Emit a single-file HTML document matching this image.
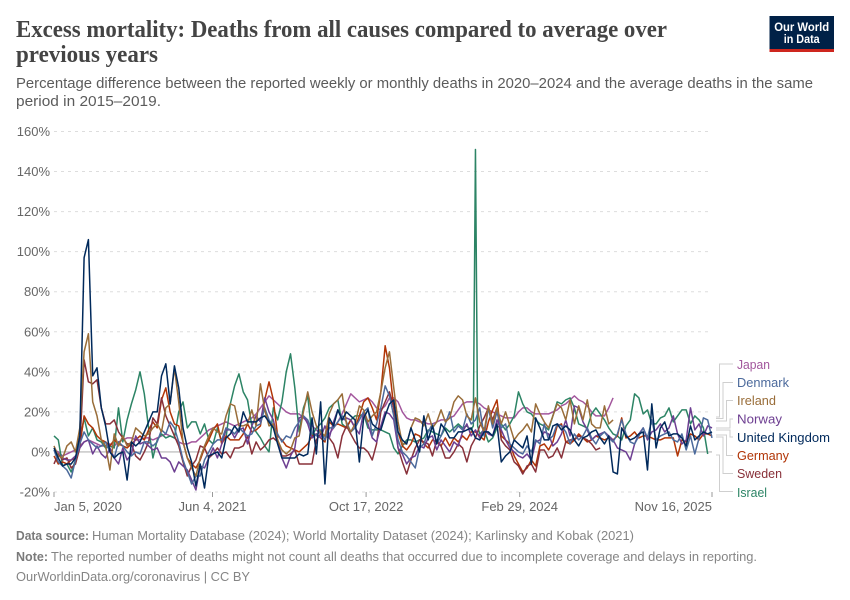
<!DOCTYPE html>
<html lang="en">
<head>
<meta charset="utf-8">
<title>Excess mortality chart</title>
<style>
  html, body { margin: 0; padding: 0; background: #fff; }
  svg { display: block; font-family: "Liberation Sans", sans-serif; }
</style>
</head>
<body>
<svg id="chart" xmlns="http://www.w3.org/2000/svg" width="850" height="600" viewBox="0 0 850 600">
  <rect x="0" y="0" width="850" height="600" fill="#ffffff"/>

  <g>
    <text x="16" y="37" font-family="'Liberation Serif', serif" font-weight="700" font-size="24" fill="#444444" textLength="651" lengthAdjust="spacingAndGlyphs">Excess mortality: Deaths from all causes compared to average over</text>
    <text x="16" y="62" font-family="'Liberation Serif', serif" font-weight="700" font-size="24" fill="#444444" textLength="142" lengthAdjust="spacingAndGlyphs">previous years</text>
    <text x="16" y="88" font-size="14.5" fill="#5b5b5b" textLength="797" lengthAdjust="spacingAndGlyphs">Percentage difference between the reported weekly or monthly deaths in 2020–2024 and the average deaths in the same</text>
    <text x="16" y="106" font-size="14.5" fill="#5b5b5b" textLength="145" lengthAdjust="spacingAndGlyphs">period in 2015–2019.</text>
  </g>

  <g>
    <rect x="769.5" y="16" width="64.5" height="36" fill="#002147"/>
    <rect x="769.5" y="49" width="64.5" height="3" fill="#ce261e"/>
    <text x="801.7" y="31" text-anchor="middle" font-size="12" font-weight="700" fill="#ffffff" textLength="55" lengthAdjust="spacingAndGlyphs">Our World</text>
    <text x="801.7" y="43" text-anchor="middle" font-size="12" font-weight="700" fill="#ffffff" textLength="36" lengthAdjust="spacingAndGlyphs">in Data</text>
  </g>

  <g id="grid"></g>
  <g id="y-axis"></g>
  <g id="x-axis"></g>
  <g id="lines"></g>

  <g fill="none" stroke="#cfcfcf" stroke-width="1">
    <path d="M716 417H719.5V364H733"/>
    <path d="M716 418.5H723V382.5H733"/>
    <path d="M716 421H726.5V400.5H733"/>
    <path d="M716 428H730V419H733"/>
    <path d="M716 430H730V437H733"/>
    <path d="M716 435H726.5V455.5H733"/>
    <path d="M716 437H723V473.5H733"/>
    <path d="M716 455H719.5V491.5H733"/>
  </g>

  <g font-size="13">
    <text x="737" y="369" fill="#a2559c" textLength="33" lengthAdjust="spacingAndGlyphs">Japan</text>
    <text x="737" y="387" fill="#4c6a9c" textLength="52" lengthAdjust="spacingAndGlyphs">Denmark</text>
    <text x="737" y="405" fill="#996d39" textLength="39" lengthAdjust="spacingAndGlyphs">Ireland</text>
    <text x="737" y="423.5" fill="#6d3e91" textLength="45" lengthAdjust="spacingAndGlyphs">Norway</text>
    <text x="737" y="442" fill="#00295b" textLength="93" lengthAdjust="spacingAndGlyphs">United Kingdom</text>
    <text x="737" y="460" fill="#b13507" textLength="52" lengthAdjust="spacingAndGlyphs">Germany</text>
    <text x="737" y="478" fill="#883039" textLength="45" lengthAdjust="spacingAndGlyphs">Sweden</text>
    <text x="737" y="497" fill="#2c8465" textLength="30" lengthAdjust="spacingAndGlyphs">Israel</text>
  </g>

  <g font-size="13" fill="#858585">
    <text x="16" y="540" font-weight="700" fill="#7a7a7a" textLength="73" lengthAdjust="spacingAndGlyphs">Data source:</text>
    <text x="92" y="540" textLength="542" lengthAdjust="spacingAndGlyphs">Human Mortality Database (2024); World Mortality Dataset (2024); Karlinsky and Kobak (2021)</text>
    <text x="16" y="561" font-weight="700" fill="#7a7a7a" textLength="32" lengthAdjust="spacingAndGlyphs">Note:</text>
    <text x="51" y="561" textLength="706" lengthAdjust="spacingAndGlyphs">The reported number of deaths might not count all deaths that occurred due to incomplete coverage and delays in reporting.</text>
    <text x="16" y="581" textLength="234" lengthAdjust="spacingAndGlyphs">OurWorldinData.org/coronavirus | CC BY</text>
  </g>
</svg>

<script>
// ---- chart data ----
const startStepDays = 14; // every series below is sampled once per 14 days from Jan 5, 2020

const yTicks = [-20, 0, 20, 40, 60, 80, 100, 120, 140, 160];
const xTickDays = [0, 516, 1016, 1516, 2142];
const xTickLabels = ["Jan 5, 2020", "Jun 4, 2021", "Oct 17, 2022", "Feb 29, 2024", "Nov 16, 2025"];

const japanValues = [
  1,0,-2,-1,0,1,3,5,6,5,
  4,3,3,4,3,5,6,7,7,6,
  6,7,7,6,7,8,9,8,7,5,
  4,4,5,5,7,9,11,12,13,14,
  15,14,13,14,15,16,17,19,22,25,
  28,26,24,22,20,19,19,19,17,15,
  13,11,9,8,9,12,15,19,24,29,
  27,25,26,27,25,22,21,23,27,27,
  25,20,17,16,16,15,15,14,14,15,
  16,16,17,18,21,24,25,25,25,24,
  22,21,20,19,18,17,17,17,20,22,
  22,20,19,19,19,19,20,21,23,24,
  26,28,26,25,23,20,18,18,18,22,27
];
const israelValues = [
  8,6,-7,-6,-10,-4,5,17,8,12,
  6,5,2,3,2,22,5,16,24,31,
  40,29,12,-3,6,9,7,8,7,20,
  25,12,15,15,9,14,6,4,12,5,
  7,24,33,39,30,26,13,10,7,3,
  0,22,16,25,40,49,32,10,22,28,
  8,12,14,17,22,24,26,14,12,16,
  18,18,19,12,11,11,11,10,9,2,
  -1,3,6,6,5,6,7,11,10,9,
  8,12,10,12,14,12,13,11,151,9,
  11,5,7,12,14,11,14,18,30,24,
  20,19,16,14,13,11,18,25,24,26,
  27,22,14,13,12,19,22,19,16,12,
  9,8,6,13,16,29,27,19,21,14,
  14,17,18,22,15,18,21,21,14,18,
  16,12,-1
];
// extra weekly readings either side of the Israel spike
const israelSpikeDays = [1365, 1379];
const israelSpikeValues = [13, 13];
const germanyValues = [
  -2,-6,-5,-6,-4,-3,3,18,14,12,
  8,6,5,3,6,4,3,2,4,6,
  8,6,11,15,12,26,32,20,14,13,
  5,-3,-6,-8,-4,2,6,11,14,4,
  8,6,6,6,9,14,10,11,13,26,
  35,26,8,6,3,2,1,0,2,4,
  8,9,7,5,15,13,14,13,12,16,
  12,18,25,27,22,16,30,53,42,22,
  10,3,1,4,9,8,4,2,6,5,
  3,7,3,7,5,8,6,10,10,8,
  6,15,21,26,8,6,4,-2,-6,-10,
  -8,-4,-7,3,4,1,5,13,14,5,
  4,6,9,7,5,6,8,7,6,7,
  6,8,17,7,8,10,7,8,8,7,
  6,6,7,7,7,-2,6,5,9,8,
  6,9,9,8
];
const swedenValues = [
  -6,-1,-4,-3,-8,-6,2,46,35,34,
  36,22,14,14,16,10,7,4,4,-2,
  -4,0,5,17,14,27,18,13,8,3,
  -5,-12,-7,-4,3,2,-3,-1,2,-1,
  0,-3,2,2,3,8,-1,5,1,3,
  6,7,5,-2,-2,-1,1,-6,-6,-6,
  -6,6,9,8,7,4,-3,8,13,9,
  5,2,2,0,-4,4,20,25,30,22,
  2,-5,-11,-4,2,6,5,4,-2,6,
  3,-3,-3,0,4,2,-5,3,7,13,
  17,22,16,22,6,3,1,-5,-7,-11,
  -7,-6,-10,1,1,-3,-2,2,-3,5,
  6,6,8,7,6,4,1,2
];
const norwayValues = [
  1,-2,-3,-4,-4,-2,2,5,6,-1,
  3,-1,-3,2,-3,-6,2,-4,-1,8,
  4,5,3,1,2,-3,-3,-5,-10,-5,
  -7,-9,-14,-19,-7,-8,-3,2,-3,4,
  11,11,7,11,12,4,13,18,15,27,
  20,16,6,-3,-8,-2,2,17,18,14,
  7,9,7,13,7,15,21,16,17,16,
  12,9,20,14,7,5,13,20,19,16,
  2,-1,-6,-3,-2,3,2,7,8,1,
  6,3,0,5,3,10,14,8,11,7,
  12,9,8,16,11,6,2,0,-2,-3,
  -1,-4,5,6,10,9,3,5,9,16,
  8,23,22,15,11,6,8,9,10,8,
  6,2,1,0,-4,4,9,12,6,10,
  11,14,10,12,18,9,4,6,22,11,
  14,8,13,12
];
const denmarkValues = [
  1,-5,-7,-9,-13,-4,4,10,6,4,
  2,3,5,0,-3,5,3,0,-2,0,
  -1,5,5,3,5,11,9,15,12,5,
  -4,-10,-16,-12,-12,-4,0,4,6,6,
  12,11,9,12,10,8,9,13,14,22,
  16,13,9,5,8,7,12,15,18,16,
  10,8,11,6,12,12,15,18,15,10,
  12,16,20,22,8,14,22,33,28,18,
  6,0,-2,-5,-8,2,4,10,14,4,
  8,14,20,10,13,11,19,14,16,22,
  8,22,12,20,12,14,4,2,0,-1,
  3,0,6,4,14,6,8,14,13,10,
  4,9,6,8,12,7,4,8,10,7,
  5,9,16,9,5,4,8,12,7,16,
  6,8,9,10,6,5,9,1,8,-1,
  7,17,16,7
];
const irelandValues = [
  3,-2,-3,3,5,0,12,50,59,25,
  18,6,3,-9,9,3,8,3,5,12,
  10,8,9,12,14,10,22,24,42,25,
  5,-3,-8,-12,-3,3,8,12,10,9,
  18,24,23,13,13,14,21,13,34,21,
  13,14,6,1,-1,1,7,8,20,30,
  20,13,10,8,19,24,26,29,14,10,
  14,23,21,15,18,20,30,42,50,32,
  15,4,4,12,17,16,13,19,12,15,
  21,15,17,25,28,26,18,16,27,15,
  10,23,14,22,14,20,13,6,9,11,
  14,10,24,19,15,12,18,24,22,16,
  26,14,23,16,26,14,12,12,23,14,
  16
];
const ukValues = [
  2,-3,-7,-6,-6,-3,8,97,106,38,
  42,22,13,0,-3,-1,0,-14,5,3,
  5,10,15,20,20,38,44,24,43,32,
  12,2,-5,-17,-6,-18,-2,-1,0,-3,
  7,9,13,10,20,15,15,15,17,18,
  15,12,4,-3,-3,-3,-3,-1,-2,-1,
  17,-1,25,-16,17,13,21,16,20,18,
  16,-5,17,21,14,12,11,18,24,26,
  10,6,4,12,6,0,18,6,13,4,
  14,11,7,7,10,10,11,12,7,6,
  10,10,8,14,-5,-2,0,6,4,2,
  8,-6,17,12,6,6,13,14,11,13,
  11,6,3,7,8,10,11,7,4,8,
  -10,-11,12,8,6,7,9,10,-9,24,
  2,12,15,8,9,9,7,3,13,6,
  8,10,9,10
];

// ---- axis functions ----
const svgNS = "http://www.w3.org/2000/svg";
const plotLeft = 54, plotRight = 712, plotTop = 131.5, plotBottom = 492;
const dayMax = 2142, yMin = -20, yMax = 160;
function xScale(day) { return plotLeft + (day / dayMax) * (plotRight - plotLeft); }
function yScale(v) { return plotBottom - ((v - yMin) / (yMax - yMin)) * (plotBottom - plotTop); }
function make(tag, parent) {
  const el = document.createElementNS(svgNS, tag);
  parent.appendChild(el);
  return el;
}

// gridlines and y labels
const gridGroup = document.getElementById("grid");
const yAxisGroup = document.getElementById("y-axis");
yTicks.forEach(function (t) {
  const line = make("line", gridGroup);
  
  
  line.setAttribute("x1", plotLeft);
  line.setAttribute("x2", plotRight);
  line.setAttribute("y1", yScale(t));
  line.setAttribute("y2", yScale(t));
  if (t === 0) {
    line.setAttribute("stroke", "#b5b5b5");
    line.setAttribute("stroke-width", "1.2");
  } else {
    line.setAttribute("stroke", "#dddddd");
    line.setAttribute("stroke-width", "1");
    line.setAttribute("stroke-dasharray", "3,4");
  }
  const label = make("text", yAxisGroup);
  
  
  label.setAttribute("x", 50);
  label.setAttribute("y", yScale(t) + 4.5);
  label.setAttribute("text-anchor", "end");
  label.setAttribute("font-size", "13");
  label.setAttribute("fill", "#666666");
  label.textContent = t + "%";
});

// x ticks and labels
const xAxisGroup = document.getElementById("x-axis");
xTickDays.forEach(function (d, i) {
  const tick = make("line", xAxisGroup);
  
  
  tick.setAttribute("x1", xScale(d));
  tick.setAttribute("x2", xScale(d));
  tick.setAttribute("y1", plotBottom);
  tick.setAttribute("y2", plotBottom + 5);
  tick.setAttribute("stroke", "#999999");
  tick.setAttribute("stroke-width", "1");
  const label = make("text", xAxisGroup);
  
  
  label.setAttribute("x", xScale(d));
  label.setAttribute("y", 511);
  label.setAttribute("font-size", "13");
  label.setAttribute("fill", "#666666");
  let anchor = "middle";
  if (i === 0) anchor = "start";
  if (i === xTickDays.length - 1) anchor = "end";
  label.setAttribute("text-anchor", anchor);
  label.textContent = xTickLabels[i];
});

// series lines
const linesGroup = document.getElementById("lines");
function toPoints(values) {
  return values.map(function (v, i) { return [i * startStepDays, v]; });
}
function drawSeries(key, color, points) {
  const sorted = points.slice().sort(function (a, b) { return a[0] - b[0]; });
  const path = make("path", linesGroup);
  
  
  path.setAttribute("d", sorted.map(function (p, i) {
    return (i ? "L" : "M") + xScale(p[0]).toFixed(2) + " " + yScale(p[1]).toFixed(2);
  }).join(""));
  path.setAttribute("fill", "none");
  path.setAttribute("stroke", color);
  path.setAttribute("stroke-width", "1.5");
  path.setAttribute("stroke-linejoin", "round");
}
const israelExtra = israelSpikeDays.map(function (d, i) { return [d, israelSpikeValues[i]]; });
drawSeries("japan", "#a2559c", toPoints(japanValues));
drawSeries("israel", "#2c8465", toPoints(israelValues).concat(israelExtra));
drawSeries("germany", "#b13507", toPoints(germanyValues));
drawSeries("sweden", "#883039", toPoints(swedenValues));
drawSeries("norway", "#6d3e91", toPoints(norwayValues));
drawSeries("denmark", "#4c6a9c", toPoints(denmarkValues));
drawSeries("ireland", "#996d39", toPoints(irelandValues));
drawSeries("united-kingdom", "#00295b", toPoints(ukValues));
</script>
</body>
</html>
